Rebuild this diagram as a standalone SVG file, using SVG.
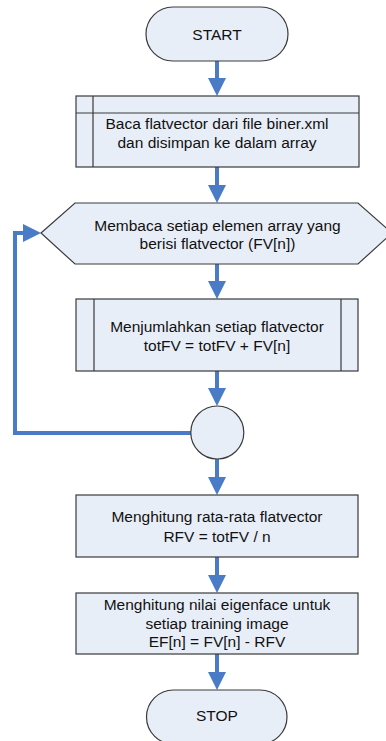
<svg xmlns="http://www.w3.org/2000/svg" width="386" height="741" viewBox="0 0 386 741">
<defs>
<style>
.shape{fill:#E8EEF8;stroke:#3A3A3A;stroke-width:1.2}
.inner{fill:none;stroke:#3A3A3A;stroke-width:1.2}
.lbl{font-family:"Liberation Sans",Arial,sans-serif;font-size:15.5px;fill:#111;text-anchor:middle}
.conn{fill:none;stroke:#4A7BC6;stroke-width:4}
</style>
<marker id="ah" markerUnits="userSpaceOnUse" viewBox="0 0 18 18" markerWidth="18" markerHeight="18" refX="8" refY="9" orient="auto">
<path d="M0,0 L18,9 L0,18 z" fill="#4A7BC6"/>
</marker>
</defs>
<rect width="386" height="741" fill="#ffffff"/>
<g id="connectors">
<path class="conn" d="M217,61 V86" marker-end="url(#ah)"/>
<path class="conn" d="M217,167 V193" marker-end="url(#ah)"/>
<path class="conn" d="M217,264 V289" marker-end="url(#ah)"/>
<path class="conn" d="M217,371 V396" marker-end="url(#ah)"/>
<path class="conn" d="M217,459 V485" marker-end="url(#ah)"/>
<path class="conn" d="M217,557 V583" marker-end="url(#ah)"/>
<path class="conn" d="M217,654 V680" marker-end="url(#ah)"/>
<path class="conn" d="M191,433 H15 V233 H31" marker-end="url(#ah)"/>
</g>
<g id="start">
<rect class="shape" x="146" y="7" width="142" height="54" rx="27" ry="27"/>
<text class="lbl" x="217" y="39.5">START</text>
</g>
<g id="read-file">
<rect class="shape" x="76" y="96" width="283" height="71"/>
<path class="inner" d="M93,96 V167 M76,113 H359"/>
<text class="lbl" x="217" y="128.5">Baca flatvector dari file biner.xml</text>
<text class="lbl" x="217" y="147.5">dan disimpan ke dalam array</text>
</g>
<g id="loop">
<polygon class="shape" points="41,233 75,203 358,203 392,233 358,264 75,264"/>
<text class="lbl" x="217.5" y="230.5">Membaca setiap elemen array yang</text>
<text class="lbl" x="217.5" y="248.5">berisi flatvector (FV[n])</text>
</g>
<g id="sum">
<rect class="shape" x="76" y="299" width="282" height="72"/>
<path class="inner" d="M94,299 V371 M341,299 V371"/>
<text class="lbl" x="217" y="331.5">Menjumlahkan setiap flatvector</text>
<text class="lbl" x="217" y="351">totFV = totFV + FV[n]</text>
</g>
<g id="connector-circle">
<circle class="shape" cx="217.3" cy="432.5" r="26.5"/>
</g>
<g id="mean">
<rect class="shape" x="76" y="495" width="282" height="62"/>
<text class="lbl" x="217" y="521.5">Menghitung rata-rata flatvector</text>
<text class="lbl" x="217" y="541.5">RFV = totFV / n</text>
</g>
<g id="eigenface">
<rect class="shape" x="76" y="593" width="282" height="61"/>
<text class="lbl" x="217" y="609.5">Menghitung nilai eigenface untuk</text>
<text class="lbl" x="217" y="628.5">setiap training image</text>
<text class="lbl" x="217" y="647">EF[n] = FV[n] - RFV</text>
</g>
<g id="stop">
<rect class="shape" x="146.5" y="690" width="140.5" height="54" rx="27" ry="27"/>
<text class="lbl" x="217" y="721">STOP</text>
</g>
</svg>
